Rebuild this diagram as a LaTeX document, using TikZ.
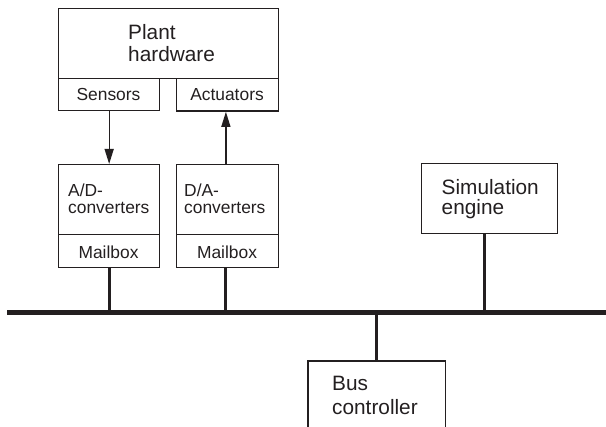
\documentclass[tikz,border=0pt]{standalone}
\usepackage{fontspec}
\setmainfont{Liberation Sans}
\usetikzlibrary{arrows.meta,calc}
\definecolor{ink}{HTML}{231F20}
\begin{document}
\begin{tikzpicture}[x=1pt,y=-1pt,
  boxst/.style={draw=ink,line width=1.3pt,rectangle,inner sep=0pt,anchor=north west},
  bigtxt/.style={inner sep=0pt,text=ink,font=\fontsize{20.8}{23}\selectfont},
  smalltxt/.style={inner sep=0pt,text=ink,font=\fontsize{17.4}{20}\selectfont},
  arr/.style={draw=ink,line width=1.3pt,-{Triangle[length=15pt,width=9pt]}},
  link/.style={draw=ink,line width=3pt},
  busst/.style={draw=ink,line width=5pt}]
\useasboundingbox (0,0) rectangle (606,427);
% boxes
\node[boxst,minimum width=220pt,minimum height=70pt] (plant) at (58,8) {};
\node[boxst,minimum width=101pt,minimum height=32pt] (sens) at (58,78) {};
\node[boxst,minimum width=101.5pt,minimum height=32.5pt] (act) at (176,78) {};
\node[boxst,minimum width=101pt,minimum height=70pt] (ad) at (58,164) {};
\node[boxst,minimum width=101pt,minimum height=33pt] (mb1) at (58,234) {};
\node[boxst,minimum width=101.5pt,minimum height=70pt] (da) at (176,164) {};
\node[boxst,minimum width=101.5pt,minimum height=33pt] (mb2) at (176,234) {};
\node[boxst,minimum width=136pt,minimum height=70pt] (sim) at (421,163) {};
\node[boxst,draw=none,minimum width=136pt,minimum height=66pt] (bc) at (308,361) {};
\draw[ink,line width=1.3pt] (bc.south west) |- (bc.north east) -- (bc.south east);
% texts
\node[bigtxt,anchor=base west] (t1) at (128,40) {Plant};
\node[bigtxt,anchor=base west] (t2) at (128,61.7) {hardware};
\node[smalltxt,anchor=base] (t3) at (108.5,101) {Sensors};
\node[smalltxt,anchor=base] (t4) at (227,101) {Actuators};
\node[smalltxt,anchor=base west] (t5) at (68,196.7) {A/D-};
\node[smalltxt,anchor=base west] (t6) at (68,214) {converters};
\node[smalltxt,anchor=base west] (t7) at (184,196.7) {D/A-};
\node[smalltxt,anchor=base west] (t8) at (184,214) {converters};
\node[smalltxt,anchor=base] (t9) at (108.5,258.5) {Mailbox};
\node[smalltxt,anchor=base] (t10) at (227,258.5) {Mailbox};
\node[bigtxt,anchor=base west] (t11) at (441.5,195) {Simulation};
\node[bigtxt,anchor=base west] (t12) at (441.5,215) {engine};
\node[bigtxt,anchor=base west] (t13) at (332,390.5) {Bus};
\node[bigtxt,anchor=base west] (t14) at (332,415) {controller};
% arrows
\draw[arr] (sens.south) -- (ad.north);
\draw[arr] ([xshift=-1.5pt]da.north) -- ([xshift=-1.5pt]act.south);
% bus
\coordinate (busL) at (7,313);
\coordinate (busR) at (606,313);
\draw[busst] (busL) -- (busR);
\draw[link] (mb1.south) -- (mb1.south |- busL);
\draw[link] ([xshift=-1.5pt]mb2.south) -- ([xshift=-1.5pt]mb2.south |- busL);
\draw[link] ([xshift=-5pt]sim.south) -- ([xshift=-5pt]sim.south |- busL);
\draw[link] (bc.north) -- (bc.north |- busL);
\end{tikzpicture}
\end{document}
